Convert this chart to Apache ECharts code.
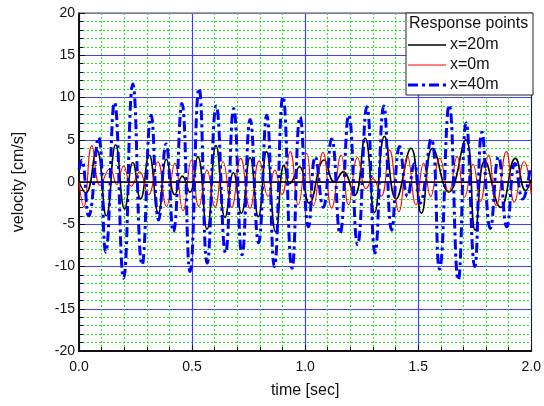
<!DOCTYPE html>
<html>
<head>
<meta charset="utf-8">
<script src="https://cdn.jsdelivr.net/npm/echarts@6/dist/echarts.min.js"></script>
<style>
  html, body { margin: 0; padding: 0; background: #ffffff; }
  #chart { width: 544px; height: 406px; }
</style>
</head>
<body>
<div id="chart"></div>
<script>
// Velocity response at three points along the line (time in s, velocity in cm/s).
// Each series is listed at its turning points; the line is smoothed between them.
const x20Time = [0, 0.030, 0.078, 0.121, 0.162, 0.202, 0.238, 0.272, 0.310, 0.351, 0.387, 0.424, 0.457, 0.490,
  0.525, 0.566, 0.606, 0.646, 0.683, 0.718, 0.756, 0.793, 0.829, 0.870, 0.907, 0.932, 0.975, 1.018, 1.084,
  1.130, 1.168, 1.218, 1.265, 1.307, 1.351, 1.402, 1.468, 1.514, 1.564, 1.635, 1.710, 1.752, 1.795, 1.865,
  1.930, 1.975, 2.000];
const x20Vel = [0, -1.3, 3.8, -4.0, 4.4, -3.2, 2.3, -2.0, 3.2, -3.7, 2.7, -1.5, 0.7, -1.2,
  3.0, -5.6, 4.3, -4.2, 1.1, -3.7, 2.9, -4.1, 3.6, -5.9, 2.0, -0.2, 1.8, -2.5, 2.6,
  0.0, 1.2, -1.6, 5.2, -3.6, 5.4, -2.0, 4.0, -3.7, 4.0, -1.2, 5.0, -5.7, 2.5, -3.0,
  2.8, -1.0, 0.3];

const x0Time = [0, 0.021, 0.057, 0.094, 0.137, 0.167, 0.197, 0.231, 0.268, 0.307, 0.348, 0.387, 0.424, 0.460,
  0.497, 0.530, 0.566, 0.601, 0.637, 0.675, 0.715, 0.756, 0.797, 0.836, 0.866, 0.897, 0.934, 0.970, 1.007,
  1.037, 1.079, 1.117, 1.159, 1.192, 1.232, 1.270, 1.300, 1.336, 1.373, 1.415, 1.453, 1.490, 1.524, 1.555,
  1.595, 1.635, 1.672, 1.705, 1.742, 1.775, 1.811, 1.845, 1.890, 1.925, 1.968, 2.000];
const x0Vel = [0, -2.9, 4.3, -0.4, 1.6, -0.3, 1.9, -0.5, 1.2, -1.5, 2.4, -2.9, 2.2, -3.4,
  2.6, -2.9, 1.4, -3.0, 2.4, -3.0, 2.8, -3.1, 2.5, -1.7, 1.4, -1.5, 3.6, -2.7, 3.4,
  -2.8, 3.5, -3.1, 3.2, -2.7, 2.9, -0.8, 0.4, -1.7, 3.8, -3.5, 3.0, -2.7, 2.2, -1.7,
  2.8, -1.2, 3.0, -1.8, 2.1, -2.3, 3.2, -2.8, 3.6, -2.4, 2.4, -1.5];

const x40Time = [0, 0.012, 0.043, 0.086, 0.118, 0.157, 0.197, 0.238, 0.279, 0.319, 0.352, 0.385, 0.417, 0.455,
  0.491, 0.531, 0.567, 0.607, 0.648, 0.684, 0.721, 0.757, 0.794, 0.830, 0.864, 0.902, 0.942, 0.978, 1.015,
  1.045, 1.080, 1.117, 1.154, 1.193, 1.232, 1.273, 1.309, 1.348, 1.383, 1.418, 1.453, 1.483, 1.508, 1.557,
  1.594, 1.637, 1.677, 1.712, 1.750, 1.782, 1.819, 1.855, 1.892, 1.928, 1.962, 1.994];
const x40Vel = [1.5, 2.6, -4.0, 5.3, -8.3, 9.4, -11.4, 11.6, -9.8, 7.9, -4.5, 4.5, -5.9, 9.3,
  -10.6, 11.1, -9.6, 9.0, -8.4, 8.7, -8.6, 7.4, -7.2, 7.9, -10.0, 10.1, -10.2, 7.7, -5.3,
  3.0, -3.0, 5.1, -6.1, 7.9, -7.4, 8.9, -8.4, 9.0, -5.7, 4.2, -1.7, 2.2, -2.5, 5.1,
  -10.3, 9.1, -11.6, 7.0, -10.0, 5.9, -5.5, 3.0, -5.3, 2.2, -2.0, 1.4];

const seriesNames = ['x=20m', 'x=0m', 'x=40m'];
const legendTitle = 'Response points';
const xTickLabels = ['0.0', '0.5', '1.0', '1.5', '2.0'];
const yTickLabels = ['-20', '-15', '-10', '-5', '0', '5', '10', '15', '20'];

const zip = (ts, vs) => ts.map((t, i) => [t, vs[i]]);

const font = '"Liberation Sans", Arial, sans-serif';
const majorGrid = { show: true, lineStyle: { color: '#3f3fff', width: 1.2, type: 'solid' } };
const minorGrid = { show: true, lineStyle: { color: '#1fe81f', width: 1, type: [2, 2] } };

// Line styles shared by the plotted series and their key entries
const styles = [
  { color: '#000000', width: 1.6, type: 'solid' },
  { color: '#ff0000', width: 1.1, type: 'solid' },
  { color: '#0000ff', width: 3, type: [10, 4, 3, 4], cap: 'butt' }
];

// Key box in the upper-right corner of the plot
const key = { x: 406, y: 13, w: 127, h: 82, rowY: [45, 65, 85], lineX0: 408, lineX1: 446, textX: 450 };
const keyGraphics = [{
  type: 'rect', z: 50, silent: true,
  shape: { x: key.x, y: key.y, width: key.w, height: key.h },
  style: { fill: '#ffffff', stroke: '#222', lineWidth: 1 }
}, {
  type: 'text', z: 55, silent: true, x: key.x + 3, y: key.y + 3,
  style: { text: legendTitle, font: '16px ' + font, fill: '#111', textVerticalAlign: 'top' }
}];
seriesNames.forEach((name, i) => {
  const s = styles[i];
  keyGraphics.push({
    type: 'line', z: 55, silent: true,
    shape: { x1: key.lineX0, y1: key.rowY[i], x2: key.lineX1, y2: key.rowY[i] },
    style: { stroke: s.color, lineWidth: s.width, lineDash: Array.isArray(s.type) ? s.type : null, lineCap: 'butt' }
  });
  keyGraphics.push({
    type: 'text', z: 55, silent: true, x: key.textX, y: key.rowY[i],
    style: { text: name, font: '16px ' + font, fill: '#111', textVerticalAlign: 'middle' }
  });
});

const chart = echarts.init(document.getElementById('chart'), null, { renderer: 'canvas' });

chart.setOption({
  animation: false,
  backgroundColor: '#ffffff',
  grid: { left: 79, right: 9, top: 13, bottom: 55, show: false },
  xAxis: [{
    type: 'value', min: 0, max: 2, interval: 0.5,
    name: 'time [sec]', nameLocation: 'middle', nameGap: 32,
    nameTextStyle: { fontFamily: font, fontSize: 16, color: '#111' },
    axisLine: { show: true, onZero: false, lineStyle: { color: '#111', width: 2 } },
    axisTick: { show: true, inside: true, length: 6, lineStyle: { color: '#111' } },
    minorTick: { show: true, splitNumber: 5, length: 4, lineStyle: { color: '#111' } },
    axisLabel: { fontFamily: font, fontSize: 14, color: '#111', margin: 9,
      formatter: (v, i) => xTickLabels[i] },
    splitLine: majorGrid,
    minorSplitLine: minorGrid
  }, {
    type: 'value', min: 0, max: 2, position: 'top',
    axisLine: { show: true, onZero: false, lineStyle: { color: '#8a8a8a', width: 1.5 } },
    axisTick: { show: false }, axisLabel: { show: false }, splitLine: { show: false }
  }],
  yAxis: [{
    type: 'value', min: -20, max: 20, interval: 5,
    name: 'velocity [cm/s]', nameLocation: 'middle', nameGap: 52, nameRotate: 90,
    nameTextStyle: { fontFamily: font, fontSize: 16, color: '#111' },
    axisLine: { show: true, onZero: false, lineStyle: { color: '#111', width: 2 } },
    axisTick: { show: true, inside: true, length: 6, lineStyle: { color: '#111' } },
    minorTick: { show: true, splitNumber: 5, length: 4, lineStyle: { color: '#111' } },
    axisLabel: { fontFamily: font, fontSize: 14, color: '#111', margin: 4,
      formatter: (v, i) => yTickLabels[i] },
    splitLine: majorGrid,
    minorSplitLine: minorGrid
  }, {
    type: 'value', min: -20, max: 20, position: 'right',
    axisLine: { show: true, onZero: false, lineStyle: { color: '#222', width: 1 } },
    axisTick: { show: false }, axisLabel: { show: false }, splitLine: { show: false }
  }],
  graphic: keyGraphics,
  series: [{
    name: seriesNames[0], type: 'line', data: zip(x20Time, x20Vel),
    symbol: 'none', smooth: 0.5, z: 3,
    lineStyle: styles[0],
    itemStyle: { color: styles[0].color },
    markLine: {
      silent: true, symbol: 'none', label: { show: false },
      lineStyle: { color: '#000000', width: 1.5, type: 'solid' },
      data: [{ yAxis: 0 }]
    }
  }, {
    name: seriesNames[1], type: 'line', data: zip(x0Time, x0Vel),
    symbol: 'none', smooth: 0.5, z: 4,
    lineStyle: styles[1],
    itemStyle: { color: styles[1].color }
  }, {
    name: seriesNames[2], type: 'line', data: zip(x40Time, x40Vel),
    symbol: 'none', smooth: 0.5, z: 5,
    lineStyle: styles[2],
    itemStyle: { color: styles[2].color }
  }]
});
</script>
</body>
</html>
